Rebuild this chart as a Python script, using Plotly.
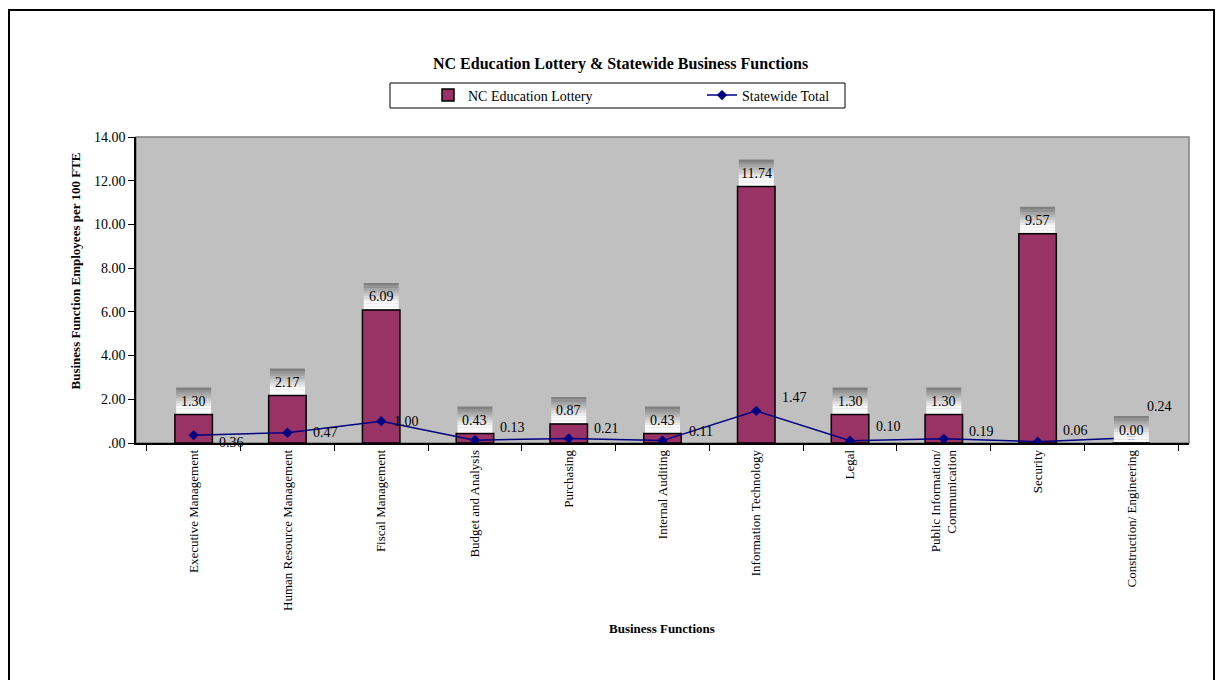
import plotly.graph_objects as go

categories = ["Executive Management", "Human Resource Management", "Fiscal Management",
              "Budget and Analysis", "Purchasing", "Internal Auditing",
              "Information Technology", "Legal", "Public Information/<br>Communication",
              "Security", "Construction/ Engineering"]
lottery = [1.30, 2.17, 6.09, 0.43, 0.87, 0.43, 11.74, 1.30, 1.30, 9.57, 0.00]
statewide = [0.36, 0.47, 1.00, 0.13, 0.21, 0.11, 1.47, 0.10, 0.19, 0.06, 0.24]
y_ticks = [0, 2, 4, 6, 8, 10, 12, 14]
y_ticktext = [".00", "2.00", "4.00", "6.00", "8.00", "10.00", "12.00", "14.00"]

# label placement offsets (pixels) for statewide labels
line_dx = [38, 38, 25, 38, 38, 38, 38, 38, 38, 38, 28]
line_dy = [-7, 0, 0, 13, 10, 9, 13, 14, 7, 11, 31]

FONT = "Liberation Serif, Times New Roman, serif"
OFF = 8  # page body margin
W, H = 1223 - 2 * OFF, 688 - 2 * OFF
L, T = 136 - OFF, 137 - OFF
R = W - (1189 - OFF)
B = H - (443 - OFF)
pw, ph = W - L - R, H - T - B


def px_x(p):  # page pixel -> paper x
    return (p - OFF - L) / pw


def px_y(p):  # page pixel -> paper y
    return (H - B - (p - OFF)) / ph


fig = go.Figure()
fig.add_trace(go.Bar(
    x=categories, y=lottery, name="NC Education Lottery",
    marker=dict(color="#993366", line=dict(color="black", width=1.5)),
    width=0.4, legend="legend",
))
fig.add_trace(go.Scatter(
    x=categories, y=statewide, name="Statewide Total", mode="lines+markers",
    line=dict(color="#000080", width=1.5),
    marker=dict(symbol="diamond", size=8, color="#000080"),
    legend="legend2",
))

shapes = []
annotations = []

# gradient boxes behind bar value labels
n_strips = 10
box_h = 26
for i, v in enumerate(lottery):
    for s in range(n_strips):
        frac = s / (n_strips - 1)  # 0 bottom -> 1 top
        t = max(0.0, (frac - 0.25) / 0.75)
        g = int(round(250 - (250 - 128) * t))
        shapes.append(dict(
            type="rect", xref="x", yref="y", xsizemode="pixel", ysizemode="pixel",
            xanchor=i, yanchor=v, x0=-17.5, x1=17.5,
            y0=1 + s * box_h / n_strips, y1=1 + (s + 1) * box_h / n_strips,
            line=dict(width=0), fillcolor=f"rgb({g},{g},{g})", layer="above",
        ))
    annotations.append(dict(
        x=i, y=v, xref="x", yref="y", text=f"{v:.2f}", showarrow=False,
        yshift=13, yanchor="middle", font=dict(family=FONT, size=14, color="black"),
    ))

for i, v in enumerate(statewide):
    annotations.append(dict(
        x=i, y=v, xref="x", yref="y", text=f"{v:.2f}", showarrow=False,
        xshift=line_dx[i], yshift=line_dy[i], yanchor="middle",
        font=dict(family=FONT, size=14, color="black"),
    ))

# plot area gray frame
shapes.append(dict(type="rect", xref="paper", yref="paper", x0=0, x1=1, y0=0, y1=1,
                   line=dict(color="#808080", width=1.5), layer="below"))
# outer chart border
shapes.append(dict(type="rect", xref="paper", yref="paper",
                   x0=px_x(9), x1=px_x(1214), y0=px_y(10), y1=px_y(720),
                   line=dict(color="black", width=2), layer="above"))
# legend frame
shapes.append(dict(type="rect", xref="paper", yref="paper",
                   x0=px_x(390), x1=px_x(845), y0=px_y(83), y1=px_y(108),
                   line=dict(color="black", width=1), fillcolor="rgba(0,0,0,0)", layer="above"))

annotations += [
    dict(xref="paper", yref="paper", x=px_x(620), y=px_y(53),
         text="<b>NC Education Lottery &amp; Statewide Business Functions</b>",
         showarrow=False, font=dict(family=FONT, size=16, color="black")),
    dict(xref="paper", yref="paper", x=px_x(65), y=px_y(271), textangle=-90,
         text="<b>Business Function Employees per 100 FTE</b>",
         showarrow=False, font=dict(family=FONT, size=13, color="black")),
    dict(xref="paper", yref="paper", x=px_x(662), y=px_y(638),
         text="<b>Business Functions</b>",
         showarrow=False, font=dict(family=FONT, size=13, color="black")),
]

legend_common = dict(orientation="h", yanchor="middle", xanchor="left",
                     bgcolor="rgba(0,0,0,0)", borderwidth=0, itemwidth=30,
                     font=dict(family=FONT, size=14, color="black"))

fig.update_layout(
    width=W, height=H, margin=dict(l=L, r=R, t=T, b=B, autoexpand=False),
    paper_bgcolor="white", plot_bgcolor="#C0C0C0",
    font=dict(family=FONT, size=12, color="black"),
    showlegend=True,
    legend=dict(x=px_x(428), y=px_y(95.5), **legend_common),
    legend2=dict(x=px_x(702), y=px_y(95.5), **legend_common),
    shapes=shapes, annotations=annotations,
)
fig.update_xaxes(
    type="category", tickson="boundaries", ticks="outside", ticklen=6, tickcolor="black",
    showline=True, linecolor="black", linewidth=1.5, tickangle=-90, showgrid=False,
    tickfont=dict(family=FONT, size=13, color="black"), fixedrange=True,
)
fig.update_yaxes(
    range=[0, 14], tickvals=y_ticks, ticktext=y_ticktext, ticks="outside", ticklen=6,
    tickcolor="black", showline=True, linecolor="black", linewidth=1.5, showgrid=False,
    zeroline=False, tickfont=dict(family=FONT, size=14, color="black"), fixedrange=True,
)

fig.write_html("out.html")
